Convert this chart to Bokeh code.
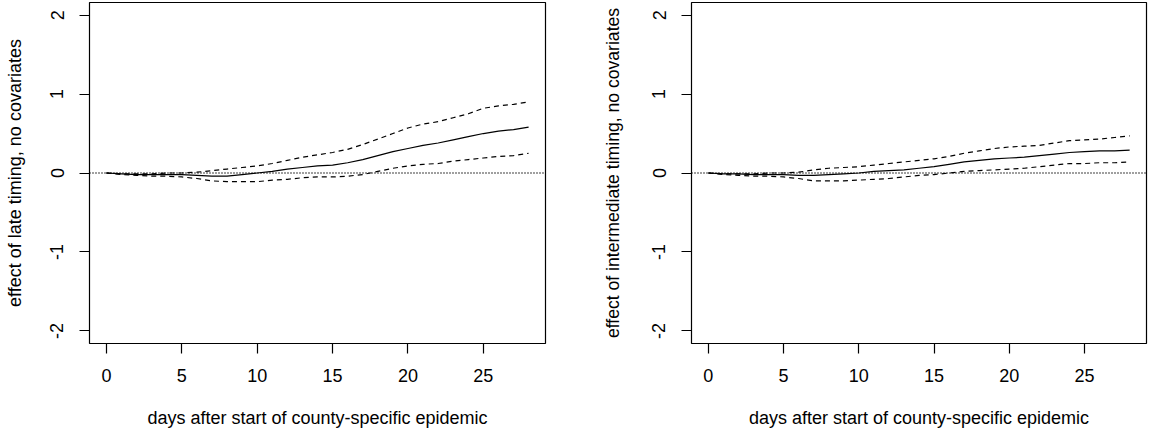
from bokeh.plotting import figure
from bokeh.layouts import row
from bokeh.models import Span, FixedTicker
from bokeh.embed import file_html
from bokeh.resources import INLINE

days = list(range(29))

late_est = [0, -0.01, -0.02, -0.02, -0.02, -0.02, -0.03, -0.04, -0.04, -0.02, 0.0,
            0.02, 0.05, 0.07, 0.09, 0.10, 0.13, 0.17, 0.22, 0.27, 0.31,
            0.35, 0.38, 0.42, 0.46, 0.50, 0.53, 0.55, 0.58]
late_upper = [0, -0.01, -0.01, -0.01, 0.0, 0.0, 0.01, 0.03, 0.05, 0.07, 0.09,
              0.12, 0.16, 0.20, 0.23, 0.26, 0.30, 0.36, 0.43, 0.50, 0.57,
              0.62, 0.65, 0.70, 0.75, 0.82, 0.85, 0.87, 0.90]
late_lower = [0, -0.02, -0.03, -0.04, -0.04, -0.05, -0.07, -0.10, -0.11, -0.11, -0.11,
              -0.09, -0.08, -0.06, -0.05, -0.05, -0.04, -0.02, 0.02, 0.06, 0.09,
              0.11, 0.12, 0.15, 0.17, 0.19, 0.21, 0.22, 0.25]

inter_est = [0, -0.01, -0.01, -0.02, -0.02, -0.02, -0.03, -0.03, -0.02, -0.01, 0.0,
             0.02, 0.03, 0.04, 0.06, 0.08, 0.11, 0.14, 0.16, 0.18, 0.19,
             0.20, 0.22, 0.24, 0.26, 0.27, 0.28, 0.28, 0.29]
inter_upper = [0, -0.01, -0.01, -0.01, 0.0, 0.0, 0.01, 0.04, 0.06, 0.07, 0.08,
               0.10, 0.12, 0.14, 0.16, 0.18, 0.21, 0.25, 0.28, 0.31, 0.33,
               0.34, 0.35, 0.38, 0.41, 0.42, 0.43, 0.45, 0.47]
inter_lower = [0, -0.02, -0.03, -0.04, -0.04, -0.05, -0.07, -0.10, -0.10, -0.10, -0.09,
               -0.08, -0.07, -0.05, -0.03, -0.02, 0.0, 0.02, 0.03, 0.04, 0.05,
               0.06, 0.08, 0.10, 0.12, 0.12, 0.13, 0.13, 0.14]

x_ticks = [0, 5, 10, 15, 20, 25]
y_ticks = [-2, -1, 0, 1, 2]
y_tick_labels = ["-2", "-1", "0", "1", "2"]
x_title = "days after start of county-specific epidemic"
y_titles = ["effect of late timing, no covariates",
            "effect of intermediate timing, no covariates"]

FONT = "Liberation Sans"


def make_panel(est, upper, lower, ytitle, width, border_left, border_right,
               border_top, frame_h, ytitle_standoff, ytitle_size):
    p = figure(width=width, height=border_top + frame_h + 90,
               x_range=(-1.12, 29.12), y_range=(-2.16, 2.16),
               output_backend="svg", toolbar_location=None,
               min_border_left=border_left, min_border_right=border_right,
               min_border_top=border_top, min_border_bottom=90)
    p.grid.visible = False
    p.outline_line_color = "black"
    p.outline_line_width = 1.2
    p.background_fill_color = "white"
    p.border_fill_color = "white"
    for ax in (p.xaxis[0], p.yaxis[0]):
        ax.axis_line_color = None
        ax.major_tick_in = 0
        ax.major_tick_out = 10
        ax.major_tick_line_color = "black"
        ax.major_tick_line_width = 1.2
        ax.minor_tick_line_color = None
        ax.major_label_text_font = FONT
        ax.major_label_text_font_size = "18px"
        ax.major_label_text_color = "black"
        ax.axis_label_text_font = FONT
        ax.axis_label_text_font_size = "18px"
        ax.axis_label_text_font_style = "normal"
        ax.axis_label_text_color = "black"
    p.xaxis.ticker = FixedTicker(ticks=x_ticks)
    p.yaxis.ticker = FixedTicker(ticks=y_ticks)
    p.yaxis.major_label_overrides = dict(zip(y_ticks, y_tick_labels))
    p.yaxis.major_label_orientation = "vertical"
    p.xaxis.axis_label = x_title
    p.yaxis.axis_label = ytitle
    p.yaxis.axis_label_text_font_size = ytitle_size
    p.xaxis.major_label_standoff = 15
    p.xaxis.axis_label_standoff = 23
    p.yaxis.major_label_standoff = 16
    p.yaxis.axis_label_standoff = ytitle_standoff

    p.add_layout(Span(location=0, dimension="width", line_color="black",
                      line_width=1.4, line_dash="1 2"))
    p.line(days, est, line_color="black", line_width=1.2)
    p.line(days, upper, line_color="black", line_width=1.2, line_dash="5 4")
    p.line(days, lower, line_color="black", line_width=1.2, line_dash="5 4")
    return p


p1 = make_panel(late_est, late_upper, late_lower, y_titles[0],
                width=575, border_left=89, border_right=30, border_top=2,
                frame_h=341, ytitle_standoff=23, ytitle_size="18px")
p2 = make_panel(inter_est, inter_upper, inter_lower, y_titles[1],
                width=573, border_left=116, border_right=2, border_top=0,
                frame_h=343, ytitle_standoff=27, ytitle_size="17.6px")

layout = row(p1, p2)

open("out.html", "w").write(file_html(layout, INLINE))
